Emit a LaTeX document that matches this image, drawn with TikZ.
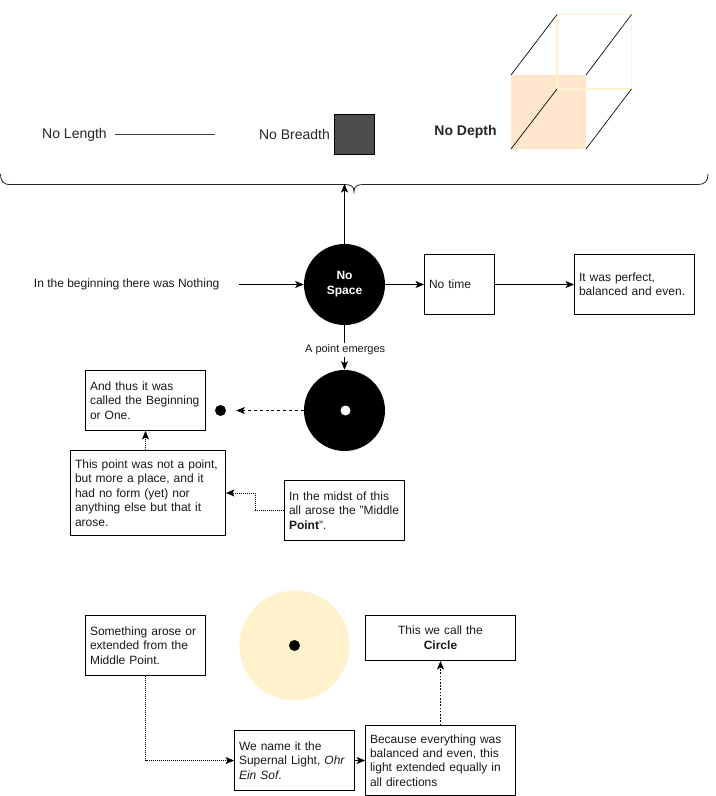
\documentclass[tikz,border=0pt]{standalone}
\usepackage{fontspec}
\setmainfont{Liberation Sans}
\usetikzlibrary{arrows.meta}
\definecolor{peach}{HTML}{FFE6CC}
\definecolor{cream}{HTML}{FFF2CC}
\definecolor{slate}{HTML}{4D4D4D}
\tikzset{
  x=0.75pt,y=-0.75pt,
  bodytext/.style={font=\fontsize{9}{10.8}\selectfont,text=black!90},
  bigtext/.style={font=\fontsize{10.5}{12.6}\selectfont,text=black!85},
  textbox/.style={bodytext,draw=black,line width=0.6pt,rectangle,inner xsep=3.4pt,inner ysep=0pt,align=left},
  box120/.style={textbox,minimum width=90pt,text width=83.2pt},
  box155/.style={textbox,minimum width=116.25pt,text width=109.45pt},
  box70/.style={textbox,minimum width=52.5pt,text width=45.7pt},
  box150/.style={textbox,minimum width=112.5pt,text width=105.7pt},
  disc/.style={circle,fill=black,inner sep=0pt,minimum size=60.75pt},
  dotblack/.style={circle,fill=black,inner sep=0pt,minimum size=8.25pt},
  dotwhite/.style={circle,fill=white,inner sep=0pt,minimum size=7.5pt},
  conn/.style={-{Stealth[length=6.4pt,width=5.2pt,inset=1.5pt]},line width=0.55pt,draw=black},
  dashconn/.style={conn,dash pattern=on 2.2pt off 2.2pt},
  dotconn/.style={conn,dash pattern=on 0.7pt off 0.8pt,line width=0.5pt},
  cubeline/.style={line width=0.5pt,draw=black},
}
\begin{document}
\begin{tikzpicture}
\useasboundingbox (0,0) rectangle (716,796);

% top row
\node[bigtext] (nolength) at (74.5,134.8) {No Length};
\coordinate (lenA) at (114.5,134);
\coordinate (lenB) at (214.5,134);
\draw[line width=0.6pt,draw=black!75] (lenA) -- (lenB);
\node[bigtext] (nobreadth) at (294.5,134.5) {No Breadth};
\node[draw=black,fill=slate,line width=0.6pt,inner sep=0pt,minimum width=30.4pt,minimum height=30.4pt] (square) at (354.5,134.5) {};
\node[bigtext,font=\fontsize{10.5}{12.6}\selectfont\bfseries] (nodepth) at (465.5,132) {No Depth};

% cube
\coordinate (fa) at (511,75);
\coordinate (fb) at (586,75);
\coordinate (fc) at (586,149);
\coordinate (fd) at (511,149);
\coordinate (ba) at (557,14.5);
\coordinate (bb) at (631.5,14.5);
\coordinate (bc) at (631.5,89);
\coordinate (bd) at (557,89);
\fill[peach] (fa) -- (fb) -- (fc) -- (fd) -- cycle;
\draw[cream,line width=1.1pt] (ba) -- (bb) -- (bc) -- (bd) -- cycle;
\draw[cubeline] (fa) -- (ba) (fb) -- (bb) (fc) -- (bc) (fd) -- (bd);

% brace
\coordinate (braceL) at (0.5,174);
\coordinate (braceR) at (708,174);
\coordinate (braceT) at (354,192);
\coordinate (braceM) at (344.5,184);
\draw[line width=0.6pt,draw=black!85]
  (braceL) .. controls (0.5,181) and (3,184.5) .. (10,184.5)
  -- (344,184.5) .. controls (351,184.5) and (354,186) .. (braceT)
  .. controls (354,186) and (357,184.5) .. (364,184.5)
  -- (698,184.5) .. controls (705,184.5) and (708,181) .. (braceR);

% middle row
\node[bodytext] (nothing) at (126.7,284.5) {In the beginning there was Nothing};
\coordinate (nothingEnd) at (239,284.5);
\node[disc,text=white,align=center,font=\fontsize{9}{10.8}\selectfont\bfseries] (nospace) at (344.5,284.5) {No\\[0.6pt]Space};
\node[box70,minimum height=45pt] (notime) at (459.5,284.5) {No time};
\node[box120,minimum height=45pt] (perfect) at (634.5,284.5) {It was perfect,\\balanced and even.};
\draw[conn] (nothingEnd) -- (nospace.west);
\draw[conn] (nospace.east) -- (notime.west);
\draw[conn] (notime.east) -- (perfect.west);
\draw[conn] (nospace.north) -- (braceM);

% point
\node[disc] (pointdisc) at (344.5,410.5) {};
\node[dotwhite] (whitedot) at (345.5,410.5) {};
\draw[conn] (nospace.south) -- node[pos=0.55,xshift=0.5pt,fill=white,inner sep=1.5pt,font=\fontsize{8.25}{9.9}\selectfont,text=black!90] (emerges) {A point emerges} (pointdisc.north);
\node[dotblack] (smalldot) at (220.5,410.5) {};
\draw[dashconn,shorten >=7.5pt] (pointdisc.west) -- (smalldot.east);

\node[box120,minimum height=45pt] (called) at (145.5,400.5) {And thus it was\\called the Beginning\\or One.};
\node[box155,minimum height=63.75pt] (notpoint) at (148,493) {This point was not a point,\\but more a place, and it\\had no form (yet) nor\\anything else but that it\\arose.};
\node[box120,minimum height=45pt] (midst) at (344.5,510.5) {In the midst of this\\all arose the "Middle\\\textbf{Point}".};
\coordinate (midA) at (255,510.5);
\coordinate (midB) at (255,493);
\draw[dotconn] (notpoint.north -| called.south) -- (called.south);
\draw[dotconn] (midst.west) -- (midA) -- (midB) -- (notpoint.east);

% bottom
\node[circle,fill=cream,inner sep=0pt,minimum size=82.5pt] (light) at (294.5,645.5) {};
\node[dotblack] (lightdot) at (294.5,645.5) {};
\node[box120,minimum height=45pt] (something) at (145.5,645.5) {Something arose or\\extended from the\\Middle Point.};
\node[textbox,minimum width=112.5pt,text width=105.7pt,minimum height=33.75pt,align=center] (circlebox) at (440.5,638) {This we call the\\[0.5pt]\textbf{Circle}};
\node[box120,minimum height=45pt] (supernal) at (294.5,760.5) {We name it the\\Supernal Light, \textit{Ohr}\\\textit{Ein Sof}.};
\node[box150,minimum height=52.5pt] (because) at (440.5,760.5) {Because everything was\\balanced and even, this\\light extended equally in\\all directions};
\draw[dotconn] (something.south) |- (supernal.west);
\draw[conn] (supernal.east) -- (because.west);
\draw[conn,dash pattern=on 1.2pt off 1.2pt,line width=0.4pt] (because.north) -- (circlebox.south);
\end{tikzpicture}
\end{document}
